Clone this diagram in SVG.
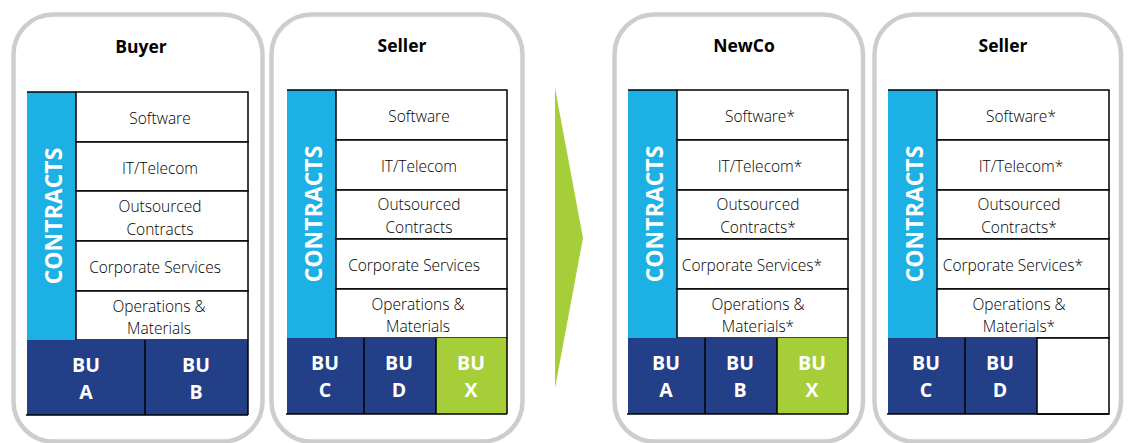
<svg xmlns="http://www.w3.org/2000/svg" width="1130" height="443" viewBox="0 0 1130 443">
<style>
.frame{fill:#fff;stroke:#CDCDCD;stroke-width:4.5}
.ct{fill:#1CB0E4}
.bu{fill:#233F87}
.bux{fill:#A6CE39}
.cell{fill:#fff;stroke:#000;stroke-width:1.5}
.ln{stroke:#000;stroke-width:1.5;fill:none}
.title{font-family:"Open Sans",sans-serif;font-weight:bold;font-size:17.5px;fill:#000;text-anchor:middle}
.row{font-family:"Open Sans",sans-serif;font-weight:300;font-size:15.5px;fill:#000;text-anchor:middle}
.but{font-family:"Open Sans",sans-serif;font-weight:bold;font-size:19.5px;fill:#fff;text-anchor:middle}
.ctt{font-family:"Open Sans",sans-serif;font-weight:bold;font-size:23px;fill:#fff;text-anchor:middle}
</style>
<g id="arrow"><polygon points="555,88 583,238 555,388" fill="#A6CE39"/></g>

<g id="buyer">
<rect class="frame" x="13.5" y="14.5" width="249" height="427" rx="40"/>
<text class="title" x="141" y="53">Buyer</text>
<rect class="ct" x="27" y="92" width="49" height="248"/>
<text class="ctt" transform="translate(62,216) rotate(-90)" x="0" y="0">CONTRACTS</text>
<rect class="cell" x="76" y="92" width="172" height="50"/>
<rect class="cell" x="76" y="142" width="172" height="49"/>
<rect class="cell" x="76" y="191" width="172" height="50"/>
<rect class="cell" x="76" y="241" width="172" height="50"/>
<rect class="cell" x="76" y="291" width="172" height="49"/>
<line class="ln" x1="27" y1="92" x2="76" y2="92"/>
<rect class="bu" x="27" y="340" width="221" height="75"/>
<line class="ln" x1="145" y1="340" x2="145" y2="415"/>
<line class="ln" x1="26" y1="415" x2="248" y2="415"/>
<line class="ln" x1="248" y1="340" x2="248" y2="415"/>
<text class="row" x="160" y="124">Software</text>
<text class="row" x="160" y="174">IT/Telecom</text>
<text class="row" x="160" y="212">Outsourced</text>
<text class="row" x="160" y="235">Contracts</text>
<text class="row" x="155" y="273">Corporate Services</text>
<text class="row" x="159" y="312">Operations &amp;</text>
<text class="row" x="159" y="334">Materials</text>
<text class="but" x="86" y="372">BU</text><text class="but" x="86" y="399">A</text>
<text class="but" x="196" y="372">BU</text><text class="but" x="196" y="399">B</text>
</g>

<g id="seller1">
<rect class="frame" x="271.5" y="14.5" width="251" height="427" rx="40"/>
<text class="title" x="402" y="52">Seller</text>
<rect class="ct" x="287" y="90" width="49" height="248"/>
<text class="ctt" transform="translate(322,214) rotate(-90)" x="0" y="0">CONTRACTS</text>
<rect class="cell" x="336" y="90" width="171" height="50"/>
<rect class="cell" x="336" y="140" width="171" height="50"/>
<rect class="cell" x="336" y="190" width="171" height="49"/>
<rect class="cell" x="336" y="239" width="171" height="50"/>
<rect class="cell" x="336" y="289" width="171" height="49"/>
<line class="ln" x1="287" y1="90" x2="336" y2="90"/>
<rect class="bu" x="287" y="338" width="149" height="76"/>
<rect class="bux" x="436" y="338" width="71" height="76"/>
<line class="ln" x1="364" y1="338" x2="364" y2="414"/>
<line class="ln" x1="436" y1="338" x2="436" y2="414"/>
<line class="ln" x1="507" y1="338" x2="507" y2="414"/>
<line class="ln" x1="286" y1="414" x2="507" y2="414"/>
<text class="row" x="419" y="122">Software</text>
<text class="row" x="419" y="172">IT/Telecom</text>
<text class="row" x="419" y="210">Outsourced</text>
<text class="row" x="419" y="233">Contracts</text>
<text class="row" x="414" y="271">Corporate Services</text>
<text class="row" x="418" y="310">Operations &amp;</text>
<text class="row" x="418" y="332">Materials</text>
<text class="but" x="325" y="370">BU</text><text class="but" x="325" y="397">C</text>
<text class="but" x="399" y="370">BU</text><text class="but" x="399" y="397">D</text>
<text class="but" x="471" y="370">BU</text><text class="but" x="471" y="397">X</text>
</g>

<g id="newco">
<rect class="frame" x="614.5" y="14.5" width="248.5" height="427" rx="40"/>
<text class="title" x="744" y="52">NewCo</text>
<rect class="ct" x="628" y="90" width="49" height="248"/>
<text class="ctt" transform="translate(663,214) rotate(-90)" x="0" y="0">CONTRACTS</text>
<rect class="cell" x="677" y="90" width="171" height="50"/>
<rect class="cell" x="677" y="140" width="171" height="50"/>
<rect class="cell" x="677" y="190" width="171" height="49"/>
<rect class="cell" x="677" y="239" width="171" height="50"/>
<rect class="cell" x="677" y="289" width="171" height="49"/>
<line class="ln" x1="628" y1="90" x2="677" y2="90"/>
<rect class="bu" x="628" y="338" width="149" height="76"/>
<rect class="bux" x="777" y="338" width="71" height="76"/>
<line class="ln" x1="705" y1="338" x2="705" y2="414"/>
<line class="ln" x1="777" y1="338" x2="777" y2="414"/>
<line class="ln" x1="848" y1="338" x2="848" y2="414"/>
<line class="ln" x1="627" y1="414" x2="848" y2="414"/>
<text class="row" x="760" y="122">Software*</text>
<text class="row" x="760" y="172">IT/Telecom*</text>
<text class="row" x="758" y="210">Outsourced</text>
<text class="row" x="758" y="233">Contracts*</text>
<text class="row" x="752" y="271">Corporate Services*</text>
<text class="row" x="758" y="310">Operations &amp;</text>
<text class="row" x="758" y="332">Materials*</text>
<text class="but" x="666" y="370">BU</text><text class="but" x="666" y="397">A</text>
<text class="but" x="740" y="370">BU</text><text class="but" x="740" y="397">B</text>
<text class="but" x="812" y="370">BU</text><text class="but" x="812" y="397">X</text>
</g>

<g id="seller2">
<rect class="frame" x="874.5" y="14.5" width="246.5" height="427" rx="40"/>
<text class="title" x="1003" y="52">Seller</text>
<rect class="ct" x="888" y="90" width="49" height="248"/>
<text class="ctt" transform="translate(923,214) rotate(-90)" x="0" y="0">CONTRACTS</text>
<rect class="cell" x="937" y="90" width="172" height="50"/>
<rect class="cell" x="937" y="140" width="172" height="50"/>
<rect class="cell" x="937" y="190" width="172" height="49"/>
<rect class="cell" x="937" y="239" width="172" height="50"/>
<rect class="cell" x="937" y="289" width="172" height="49"/>
<line class="ln" x1="888" y1="90" x2="937" y2="90"/>
<rect class="bu" x="888" y="338" width="149" height="76"/>
<rect class="cell" x="1037" y="338" width="72" height="76"/>
<line class="ln" x1="965" y1="338" x2="965" y2="414"/>
<line class="ln" x1="887" y1="414" x2="1109" y2="414"/>
<text class="row" x="1021" y="122">Software*</text>
<text class="row" x="1021" y="172">IT/Telecom*</text>
<text class="row" x="1019" y="210">Outsourced</text>
<text class="row" x="1019" y="233">Contracts*</text>
<text class="row" x="1013" y="271">Corporate Services*</text>
<text class="row" x="1019" y="310">Operations &amp;</text>
<text class="row" x="1019" y="332">Materials*</text>
<text class="but" x="926" y="370">BU</text><text class="but" x="926" y="397">C</text>
<text class="but" x="1000" y="370">BU</text><text class="but" x="1000" y="397">D</text>
</g>
</svg>
